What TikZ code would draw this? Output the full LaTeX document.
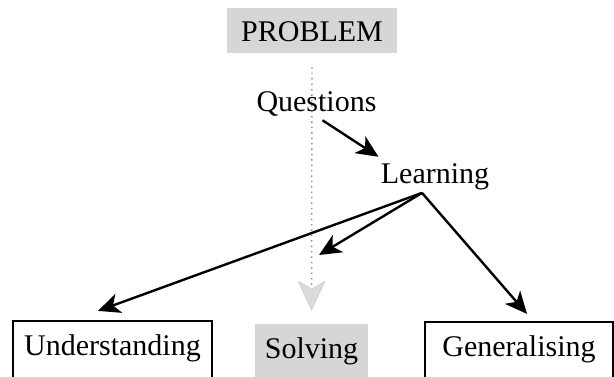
\documentclass[tikz,border=0pt]{standalone}
\usepackage{fontspec}
\setmainfont{Liberation Serif}
\usetikzlibrary{arrows.meta}
\begin{document}
\begin{tikzpicture}[x=0.5pt, y=-0.5pt,
		every node/.style={font=\fontsize{15}{17}\selectfont, inner sep=0pt},
		shaded/.style={fill=black!16},
		stagebox/.style={anchor=base, text height=10.5pt, text depth=12pt, inner ysep=6.5pt},
		flow/.style={->, line width=1.2pt},
		>={Stealth[length=11pt, width=10pt, inset=3pt]}]
		\useasboundingbox (0,0) rectangle (614,376);
		\node[shaded, anchor=base, minimum width=85pt, text height=10.5pt, text depth=0pt, inner ysep=6pt] (problem) at (312,41) {PROBLEM};
		\node[anchor=base] (questions) at (316.5,111) {Questions};
		\node[anchor=base] (learning) at (435,183) {Learning};
		\node[stagebox, draw, line width=1.1pt, minimum width=99.5pt] (understanding) at (112.5,355) {Understanding};
		\node[stagebox, shaded, minimum width=56.5pt] (solving) at (311.5,358) {Solving};
		\node[stagebox, draw, line width=1.1pt, minimum width=94pt] (generalising) at (519,356) {Generalising};
		% dotted path down the middle
		\draw[black!45, dotted, line width=0.7pt, shorten <=7pt, shorten >=6.5pt,
			-{Stealth[length=15pt, width=14pt, inset=4pt, fill=black!14, color=black!20, line width=0.3pt]}]
			(problem.south) -- (solving.north);
		\coordinate (apex) at ([shift={(-6.5pt,-1.5pt)}]learning.south);
		\coordinate (solvetip) at (319,255);
		\draw[flow] ([shift={(3pt,-2pt)}]questions.south) -- ([shift={(-1pt,3pt)}]learning.north west);
		\draw[flow] (apex) -- ([shift={(-7.25pt,4.5pt)}]understanding.north);
		\draw[flow] (apex) -- (solvetip);
		\draw[flow] (apex) -- ([shift={(4pt,3.5pt)}]generalising.north);
	\end{tikzpicture}
\end{document}
